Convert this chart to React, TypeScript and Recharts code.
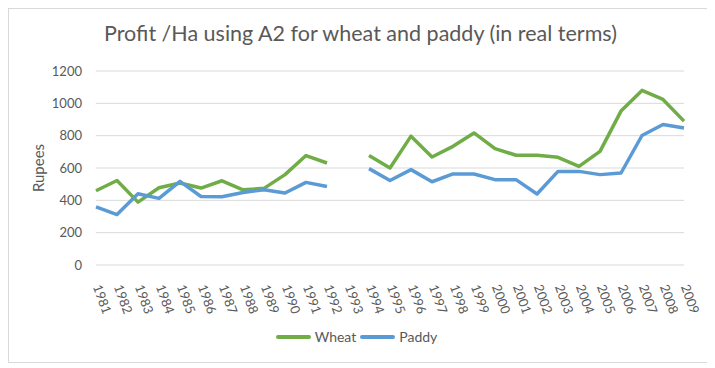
import { LineChart, Line, XAxis, YAxis, CartesianGrid, Legend } from "recharts";

const years = [
  "1981", "1982", "1983", "1984", "1985", "1986", "1987", "1988", "1989", "1990",
  "1991", "1992", "1993", "1994", "1995", "1996", "1997", "1998", "1999", "2000",
  "2001", "2002", "2003", "2004", "2005", "2006", "2007", "2008", "2009",
];

const wheat = [
  459, 523, 389, 478, 507, 476, 521, 465, 474, 559,
  677, 631, null, 677, 600, 797, 668, 734, 817, 720,
  679, 679, 666, 610, 703, 952, 1080, 1024, 890,
];

const paddy = [
  360, 312, 441, 412, 517, 424, 422, 449, 465, 445,
  511, 486, null, 596, 523, 590, 515, 563, 563, 528,
  528, 439, 579, 579, 559, 569, 801, 869, 848,
];

const yTicks = [0, 200, 400, 600, 800, 1000, 1200];

const data = years.map((year, i) => ({ year, wheat: wheat[i], paddy: paddy[i] }));

const FONT = "Lato, 'Open Sans', sans-serif";
const GREY = "#595959";

function YearTick(props: any) {
  const { x, y, payload } = props;
  return (
    <g transform={`translate(${x + 1},${y + 12})`}>
      <text
        transform="rotate(70)"
        textAnchor="start"
        dy="0.35em"
        fontSize={13}
        fill={GREY}
        fontFamily={FONT}
      >
        {payload.value}
      </text>
    </g>
  );
}

function LegendBox() {
  const items = [
    { name: "Wheat", color: "#70AD47" },
    { name: "Paddy", color: "#5B9BD5" },
  ];
  return (
    <div style={{ display: "flex", justifyContent: "center", gap: 4, fontFamily: FONT, fontSize: 14, color: GREY, paddingLeft: 20, paddingTop: 3 }}>
      {items.map((it) => (
        <div key={it.name} style={{ display: "flex", alignItems: "center" }}>
          <span style={{ display: "inline-block", width: 35, height: 4, borderRadius: 2, background: it.color, marginRight: 4 }} />
          {it.name}
        </div>
      ))}
    </div>
  );
}

export default function App() {
  return (
    <div
      style={{
        position: "relative",
        width: 703,
        height: 353,
        border: "1px solid #d9d9d9",
        background: "#fff",
        fontFamily: FONT,
      }}
    >
      <div
        style={{
          position: "absolute",
          top: 11,
          left: 0,
          width: "100%",
          textAlign: "center",
          fontSize: 21.5,
          color: GREY,
        }}
      >
        Profit /Ha using A2 for wheat and paddy (in real terms)
      </div>
      <LineChart
        width={703}
        height={353}
        data={data}
        margin={{ top: 62, right: 28, left: 0, bottom: 4 }}
      >
        <CartesianGrid vertical={false} stroke="#d9d9d9" />
        <XAxis
          dataKey="year"
          axisLine={false}
          tickLine={false}
          interval={0}
          height={60}
          tick={<YearTick />}
        />
        <YAxis
          domain={[0, 1200]}
          ticks={yTicks}
          width={87}
          axisLine={false}
          tickLine={false}
          tickMargin={8}
          tick={{ fill: GREY, fontSize: 13, fontFamily: FONT }}
          label={{
            value: "Rupees",
            angle: -90,
            position: "insideLeft",
            offset: 30,
            fill: GREY,
            fontSize: 15,
            fontFamily: FONT,
            style: { textAnchor: "middle" },
          }}
        />
        <Legend verticalAlign="bottom" height={33} content={<LegendBox />} />
        <Line
          dataKey="wheat"
          name="Wheat"
          stroke="#70AD47"
          strokeWidth={3.5}
          dot={false}
          isAnimationActive={false}
          strokeLinejoin="round"
        />
        <Line
          dataKey="paddy"
          name="Paddy"
          stroke="#5B9BD5"
          strokeWidth={3.5}
          dot={false}
          isAnimationActive={false}
          strokeLinejoin="round"
        />
      </LineChart>
    </div>
  );
}
